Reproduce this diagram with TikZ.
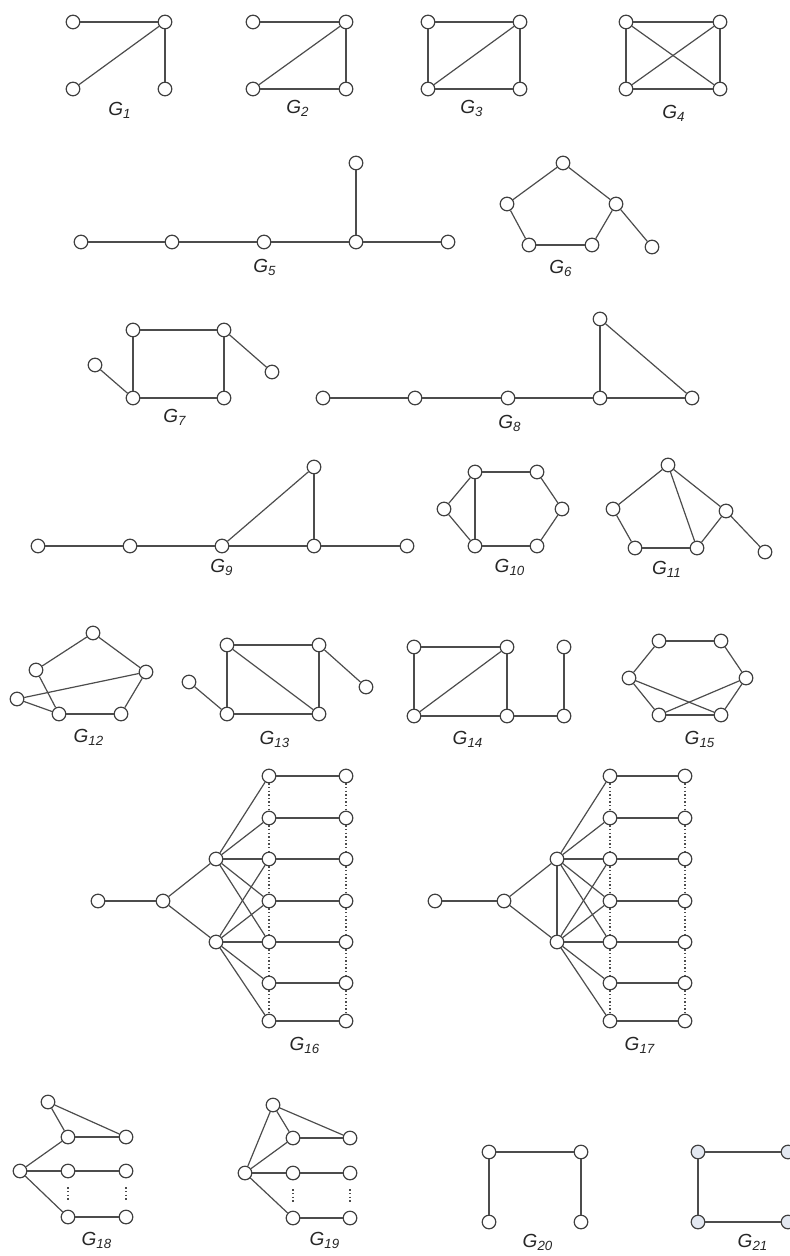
\documentclass[tikz,border=0pt]{standalone}
\usepackage{fontspec}
\setmainfont{Liberation Sans}
\definecolor{vfill}{HTML}{E3E8F1}

\begin{document}
\begin{tikzpicture}[x=0.5pt,y=-0.5pt,line width=0.6pt,color=black!70,
  v/.style={circle,draw=black!75,line width=0.6pt,fill=white,inner sep=0pt,minimum size=6.8pt},
  vb/.style={v,fill=vfill},
  dots/.style={line width=0.8pt,dash pattern=on 0.7pt off 1.1pt},
  lbl/.style={font=\fontsize{9.5}{11}\selectfont\itshape,text=black!85}]
  \useasboundingbox (0,0) rectangle (789,1256);
  % G1 -- G4
  \foreach \n/\x/\y in {a1/73/22,a2/165/22,a3/73/89,a4/165/89,
    b1/253/22,b2/346/22,b3/253/89,b4/346/89,
    c1/428/22,c2/520/22,c3/428/89,c4/520/89,
    d1/626/22,d2/720/22,d3/626/89,d4/720/89}
    \node[v] (\n) at (\x,\y) {};
  \foreach \p/\q in {a1/a2,a2/a3,a2/a4,
    b1/b2,b2/b3,b2/b4,b3/b4,
    c1/c2,c1/c3,c2/c4,c3/c4,c2/c3,
    d1/d2,d1/d3,d2/d4,d3/d4,d1/d4,d2/d3}
    \draw (\p)--(\q);
  \node[lbl] (g1) at (120,110) {G\textsubscript{1}};
  \node[lbl] (g2) at (298,108) {G\textsubscript{2}};
  \node[lbl] (g3) at (472,108) {G\textsubscript{3}};
  \node[lbl] (g4) at (674,113) {G\textsubscript{4}};
  % G5, G6
  \foreach \n/\x/\y in {e1/81/242,e2/172/242,e3/264/242,e4/356/242,e5/448/242,e6/356/163,
    f1/563/163,f2/507/204,f3/616/204,f4/529/245,f5/592/245,f6/652/247}
    \node[v] (\n) at (\x,\y) {};
  \foreach \p/\q in {e1/e2,e2/e3,e3/e4,e4/e5,e4/e6,
    f1/f2,f1/f3,f2/f4,f4/f5,f5/f3,f3/f6}
    \draw (\p)--(\q);
  \node[lbl] (g5) at (265,267) {G\textsubscript{5}};
  \node[lbl] (g6) at (561,268) {G\textsubscript{6}};
  % G7, G8
  \foreach \n/\x/\y in {h1/133/330,h2/224/330,h3/133/398,h4/224/398,h5/95/365,h6/272/372,
    i1/323/398,i2/415/398,i3/508/398,i4/600/398,i5/692/398,i6/600/319}
    \node[v] (\n) at (\x,\y) {};
  \foreach \p/\q in {h1/h2,h1/h3,h2/h4,h3/h4,h5/h3,h2/h6,
    i1/i2,i2/i3,i3/i4,i4/i5,i4/i6,i6/i5}
    \draw (\p)--(\q);
  \node[lbl] (g7) at (175,417) {G\textsubscript{7}};
  \node[lbl] (g8) at (510,423) {G\textsubscript{8}};
  % G9 -- G11
  \foreach \n/\x/\y in {j1/38/546,j2/130/546,j3/222/546,j4/314/546,j5/407/546,j6/314/467,
    k1/475/472,k2/537/472,k3/444/509,k4/562/509,k5/475/546,k6/537/546,
    m1/668/465,m2/613/509,m3/726/511,m4/635/548,m5/697/548,m6/765/552}
    \node[v] (\n) at (\x,\y) {};
  \foreach \p/\q in {j1/j2,j2/j3,j3/j4,j4/j5,j3/j6,j6/j4,
    k1/k2,k2/k4,k4/k6,k6/k5,k5/k3,k3/k1,k1/k5,
    m1/m2,m1/m3,m2/m4,m4/m5,m5/m3,m3/m6,m1/m5}
    \draw (\p)--(\q);
  \node[lbl] (g9) at (222,567) {G\textsubscript{9}};
  \node[lbl] (g10) at (510,567) {G\textsubscript{10}};
  \node[lbl] (g11) at (667,569) {G\textsubscript{11}};
  % G12 -- G15
  \foreach \n/\x/\y in {n1/93/633,n2/36/670,n3/146/672,n4/17/699,n5/59/714,n6/121/714,
    o1/227/645,o2/319/645,o3/227/714,o4/319/714,o5/189/682,o6/366/687,
    p1/414/647,p2/507/647,p3/414/716,p4/507/716,p5/564/716,p6/564/647,
    q1/659/641,q2/721/641,q3/629/678,q4/746/678,q5/659/715,q6/721/715}
    \node[v] (\n) at (\x,\y) {};
  \foreach \p/\q in {n1/n2,n1/n3,n2/n5,n3/n6,n5/n6,n4/n5,n4/n3,
    o1/o2,o1/o3,o2/o4,o3/o4,o1/o4,o5/o3,o2/o6,
    p1/p2,p1/p3,p2/p4,p3/p4,p3/p2,p4/p5,p5/p6,
    q1/q2,q2/q4,q4/q6,q6/q5,q5/q3,q3/q1,q3/q6,q4/q5}
    \draw (\p)--(\q);
  \node[lbl] (g12) at (89,737) {G\textsubscript{12}};
  \node[lbl] (g13) at (275,739) {G\textsubscript{13}};
  \node[lbl] (g14) at (468,739) {G\textsubscript{14}};
  \node[lbl] (g15) at (700,739) {G\textsubscript{15}};
  % G16, G17
  \foreach \r/\y in {1/776,2/818,3/859,4/901,5/942,6/983,7/1021}{
    \node[v] (ua\r) at (269,\y) {};
    \node[v] (ub\r) at (346,\y) {};
    \node[v] (wa\r) at (610,\y) {};
    \node[v] (wb\r) at (685,\y) {};
    \draw (ua\r)--(ub\r);
    \draw (wa\r)--(wb\r);
  }
  \node[v] (u0) at (98,901) {};
  \node[v] (u1) at (163,901) {};
  \node[v] (uh) at (216,859) {};
  \node[v] (ul) at (216,942) {};
  \node[v] (w0) at (435,901) {};
  \node[v] (w1) at (504,901) {};
  \node[v] (wh) at (557,859) {};
  \node[v] (wl) at (557,942) {};
  \foreach \p/\q in {u0/u1,u1/uh,u1/ul,w0/w1,w1/wh,w1/wl,wh/wl}
    \draw (\p)--(\q);
  \foreach \r in {1,...,5} {\draw (uh)--(ua\r); \draw (wh)--(wa\r);}
  \foreach \r in {3,...,7} {\draw (ul)--(ua\r); \draw (wl)--(wa\r);}
  \foreach \r/\s in {1/2,2/3,3/4,4/5,5/6,6/7}
    \foreach \c in {ua,ub,wa,wb} \draw[dots] (\c\r)--(\c\s);
  \node[lbl] (g16) at (305,1045) {G\textsubscript{16}};
  \node[lbl] (g17) at (640,1045) {G\textsubscript{17}};
  % G18, G19
  \foreach \n/\x/\y in {s0/20/1171,s1/48/1102,s2/68/1137,s3/126/1137,s4/68/1171,s5/126/1171,s6/68/1217,s7/126/1217,
    t0/245/1173,t1/273/1105,t2/293/1138,t3/350/1138,t4/293/1173,t5/350/1173,t6/293/1218,t7/350/1218}
    \node[v] (\n) at (\x,\y) {};
  \foreach \p/\q in {s1/s2,s1/s3,s2/s3,s0/s2,s0/s4,s4/s5,s0/s6,s6/s7,
    t0/t1,t1/t2,t1/t3,t2/t3,t0/t2,t0/t4,t4/t5,t0/t6,t6/t7}
    \draw (\p)--(\q);
  \foreach \p/\q in {s4/s6,s5/s7,t4/t6,t5/t7}
    \draw[dots,shorten >=4.5pt,shorten <=4.5pt] (\p)--(\q);
  \node[lbl] (g18) at (97,1240) {G\textsubscript{18}};
  \node[lbl] (g19) at (325,1240) {G\textsubscript{19}};
  % G20, G21
  \foreach \n/\x/\y in {x1/489/1152,x2/581/1152,x3/489/1222,x4/581/1222}
    \node[v] (\n) at (\x,\y) {};
  \foreach \n/\x/\y in {y1/698/1152,y2/788/1152,y3/698/1222,y4/788/1222}
    \node[vb] (\n) at (\x,\y) {};
  \foreach \p/\q in {x1/x2,x1/x3,x2/x4,y1/y2,y1/y3,y3/y4}
    \draw (\p)--(\q);
  \node[lbl] (g20) at (538,1242) {G\textsubscript{20}};
  \node[lbl] (g21) at (753,1242) {G\textsubscript{21}};
\end{tikzpicture}
\end{document}
